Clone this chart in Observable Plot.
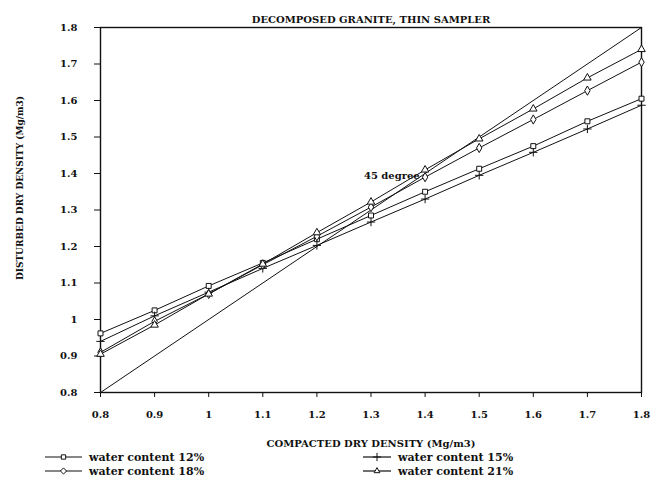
<!DOCTYPE html>
<html><head><meta charset="utf-8">
<script src="https://cdn.jsdelivr.net/npm/d3@7"></script>
<script src="https://cdn.jsdelivr.net/npm/@observablehq/plot@0.6"></script>
<style>
body{margin:0;background:#fff;}
#legend{position:relative;height:30px;width:657px;font:bold 11px "DejaVu Serif",serif;color:#111;}
#legend .item{position:absolute;display:flex;align-items:center;white-space:nowrap;height:12px;}
#legend svg{margin-right:7px;}
</style></head><body><div id="chart"></div><div id="legend"></div>
<script>
const title = "DECOMPOSED GRANITE, THIN SAMPLER";
const xLabel = "COMPACTED DRY DENSITY (Mg/m3)";
const yLabel = "DISTURBED DRY DENSITY (Mg/m3)";
const compacted = [0.8, 0.9, 1.0, 1.1, 1.2, 1.3, 1.4, 1.5, 1.6, 1.7, 1.8];
const wc12 = [0.962, 1.025, 1.092, 1.155, 1.220, 1.285, 1.350, 1.413, 1.475, 1.543, 1.605];
const wc15 = [0.940, 1.010, 1.075, 1.140, 1.203, 1.267, 1.330, 1.395, 1.458, 1.522, 1.587];
const wc18 = [0.910, 0.995, 1.070, 1.150, 1.228, 1.308, 1.390, 1.470, 1.548, 1.627, 1.705];
const wc21 = [0.905, 0.985, 1.070, 1.152, 1.238, 1.322, 1.410, 1.495, 1.577, 1.662, 1.740];
const seriesNames = ["water content 12%", "water content 15%", "water content 18%", "water content 21%"];
const seriesSymbols = ["square", "plus", "diamond", "triangle"];
const diagonalX = [0.8, 1.8];
const diagonalY = [0.8, 1.8];
const diagonalLabel = "45 degree";
const diagonalLabelPos = [1.39, 1.395];
const xTicks = [0.8, 0.9, 1.0, 1.1, 1.2, 1.3, 1.4, 1.5, 1.6, 1.7, 1.8];
const yTicks = [0.8, 0.9, 1.0, 1.1, 1.2, 1.3, 1.4, 1.5, 1.6, 1.7, 1.8];

const seriesValues = [wc12, wc15, wc18, wc21];
const rows = [];
seriesValues.forEach((vals, i) => vals.forEach((v, j) => rows.push({x: compacted[j], y: v, s: seriesNames[i], sym: seriesSymbols[i]})));
const diag = diagonalX.map((x, i) => ({x, y: diagonalY[i]}));

const font = '"DejaVu Serif", serif';
const ink = "#111";

const chart = Plot.plot({
  width: 657, height: 450,
  marginTop: 27, marginLeft: 100, marginRight: 16, marginBottom: 58,
  style: {fontFamily: font, fontSize: "10px", fontWeight: "bold", color: ink, background: "#fff"},
  x: {domain: [0.8, 1.8], ticks: xTicks, tickFormat: d3.format("~g"), label: xLabel, labelAnchor: "center", labelArrow: "none", labelOffset: 54, tickSize: 5, tickPadding: 13},
  y: {domain: [0.8, 1.8], ticks: yTicks, tickFormat: d3.format("~g"), label: null, tickSize: 6, tickPadding: 17},
  symbol: {domain: seriesNames, range: seriesSymbols},
  marks: [
    Plot.frame({stroke: ink, strokeWidth: 1.4}),
    Plot.line(diag, {x: "x", y: "y", stroke: ink, strokeWidth: 1}),
    Plot.line(rows, {x: "x", y: "y", z: "s", stroke: ink, strokeWidth: 1}),
    Plot.dot(rows, {x: "x", y: "y", symbol: "s", stroke: ink, fill: d => d.sym === "plus" ? "none" : "white", r: 2.8, strokeWidth: 1}),
    Plot.text([diagonalLabel], {x: diagonalLabelPos[0], y: diagonalLabelPos[1], text: d => d, textAnchor: "end", fontSize: 10, fill: ink}),
    Plot.text([title], {frameAnchor: "top", dy: -12, text: d => d, fontSize: 10, fill: ink}),
    Plot.text([yLabel], {frameAnchor: "left", textAnchor: "middle", rotate: -90, dx: -80, dy: -22, text: d => d, fontSize: 9, fill: ink})
  ]
});
document.getElementById("chart").appendChild(chart);

const legend = document.getElementById("legend");
const legendPos = [[45, 1], [363, 1], [45, 15], [363, 15]];
const swatchWidth = [37, 28, 37, 28];
const symMap = {square: d3.symbolSquare2, plus: d3.symbolPlus, diamond: d3.symbolDiamond2, triangle: d3.symbolTriangle2};
seriesNames.forEach((name, i) => {
  const item = document.createElement("div");
  item.className = "item";
  item.style.left = legendPos[i][0] + "px";
  item.style.top = legendPos[i][1] + "px";
  const w = swatchWidth[i];
  const sw = d3.create("svg").attr("width", w).attr("height", 10);
  sw.append("line").attr("x1", 0).attr("x2", w).attr("y1", 5).attr("y2", 5).attr("stroke", ink).attr("stroke-width", 1.2);
  sw.append("path").attr("d", d3.symbol(symMap[seriesSymbols[i]], 24)()).attr("transform", `translate(${w / 2},5)`)
    .attr("fill", seriesSymbols[i] === "plus" ? ink : "white").attr("stroke", ink).attr("stroke-width", 1);
  item.appendChild(sw.node());
  const t = document.createElement("span");
  t.textContent = name;
  item.appendChild(t);
  legend.appendChild(item);
});
</script></body></html>
